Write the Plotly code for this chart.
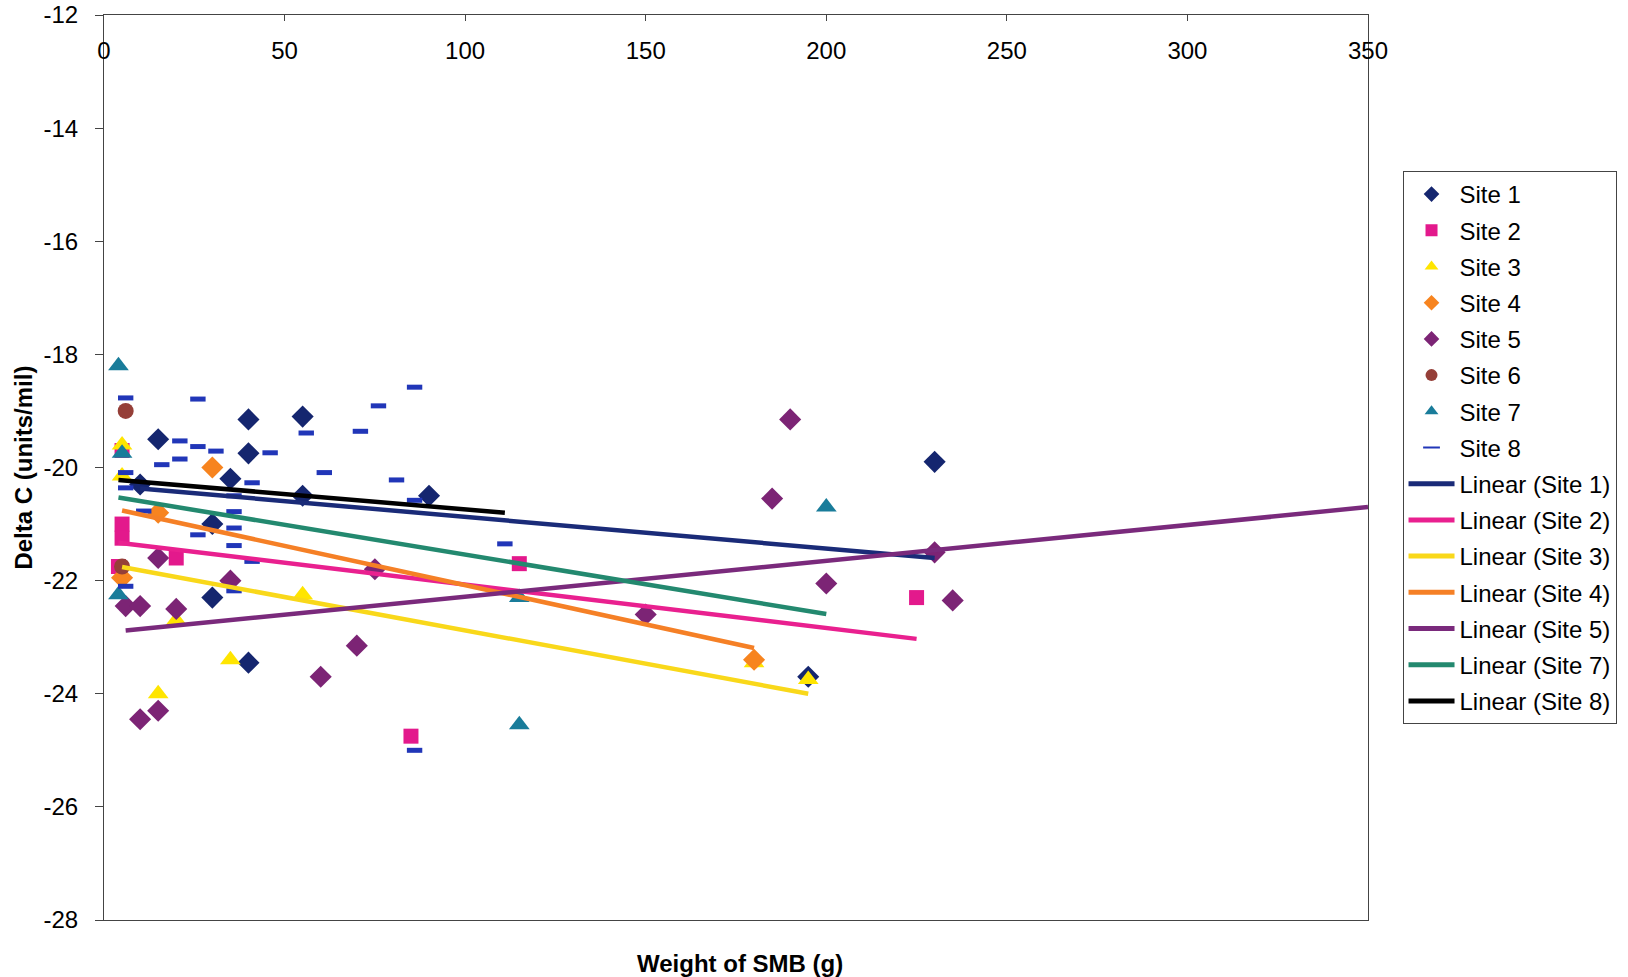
import plotly.graph_objects as go

# ---------------- data ----------------
site1_x = [10, 15, 30, 30, 35, 40, 40, 40, 55, 55, 90, 195, 230]
site1_y = [-20.3, -19.5, -21.0, -22.3, -20.2, -19.15, -19.75, -23.45, -19.1, -20.5, -20.5, -23.7, -19.9]

site2_x = [5, 5, 5, 20, 4, 85, 115, 225]
site2_y = [-19.7, -21.0, -21.25, -21.6, -21.75, -24.75, -21.7, -22.3]

site3_x = [5, 5, 20, 15, 35, 55, 180, 195]
site3_y = [-19.6, -20.15, -22.7, -24.0, -23.4, -22.25, -23.45, -23.75]

site4_x = [30, 15, 5, 180]
site4_y = [-20.0, -20.8, -21.95, -23.4]

site5_x = [15, 35, 6, 10, 20, 75, 70, 60, 15, 10, 190, 185, 200, 150, 230, 235]
site5_y = [-21.6, -22.0, -22.45, -22.45, -22.5, -21.8, -23.15, -23.7, -24.3, -24.45,
           -19.15, -20.55, -22.05, -22.6, -21.5, -22.35]

site6_x = [6, 5]
site6_y = [-19.0, -21.75]

site7_x = [4, 5, 4, 115, 115, 200]
site7_y = [-18.2, -19.75, -22.25, -22.3, -24.55, -20.7]

site8_x = [6, 26, 21, 26, 31, 46, 21, 16, 6, 6, 41, 36, 36, 11, 36, 26, 36, 41, 6, 36,
           86, 76, 56, 71, 61, 81, 86, 111, 86]
site8_y = [-18.77, -18.79, -19.53, -19.63, -19.71, -19.74, -19.85, -19.95, -20.09, -20.36,
           -20.27, -20.5, -20.78, -20.77, -21.07, -21.19, -21.38, -21.66, -22.1, -22.18,
           -18.58, -18.91, -19.39, -19.36, -20.09, -20.22, -20.58, -21.35, -25.0]

# linear trend lines (end points)
trend_names = ["Linear (Site 1)", "Linear (Site 2)", "Linear (Site 3)", "Linear (Site 4)",
               "Linear (Site 5)", "Linear (Site 7)", "Linear (Site 8)"]
trend_x0 = [10, 4, 5, 5, 6, 4, 4]
trend_x1 = [230, 225, 195, 180, 350, 200, 111]
trend_y0 = [-20.37, -21.33, -21.76, -20.76, -22.88, -20.53, -20.22]
trend_y1 = [-21.6, -23.03, -24.0, -23.19, -20.70, -22.59, -20.8]

x_ticks = [0, 50, 100, 150, 200, 250, 300, 350]
x_ticktext = ["0", "50", "100", "150", "200", "250", "300", "350"]
y_ticks = [-28, -26, -24, -22, -20, -18, -16, -14, -12]
y_ticktext = ["-28", "-26", "-24", "-22", "-20", "-18", "-16", "-14", "-12"]

# ---------------- styling ----------------
FONT = "Liberation Sans, Arial, sans-serif"

sites = [
    ("Site 1", site1_x, site1_y, "diamond", 17, "#15266F"),
    ("Site 2", site2_x, site2_y, "square", 15, "#E3198C"),
    ("Site 3", site3_x, site3_y, "triangle-up", 18, "#FFE500"),
    ("Site 4", site4_x, site4_y, "diamond", 17, "#F7841F"),
    ("Site 5", site5_x, site5_y, "diamond", 17, "#7C2475"),
    ("Site 6", site6_x, site6_y, "circle", 16, "#953F38"),
    ("Site 7", site7_x, site7_y, "triangle-up", 18, "#197C9A"),
]
trend_colors = ["#1A2B78", "#E9208F", "#F9D81A", "#F58026", "#7A2A7C", "#23896F", "#000000"]

fig = go.Figure()

for name, xs, ys, sym, size, col in sites:
    fig.add_trace(go.Scatter(
        x=xs, y=ys, mode="markers", name=name, legendgroup=name,
        marker=dict(symbol=sym, size=size, color=col, line=dict(width=0)),
    ))

fig.add_trace(go.Scatter(
    x=site8_x, y=site8_y, mode="markers", name="Site 8", legendgroup="Site 8",
    marker=dict(symbol="line-ew", size=11, color="#2136B8",
                line=dict(width=5, color="#2136B8")),
))

for i, nm in enumerate(trend_names):
    fig.add_trace(go.Scatter(
        x=[trend_x0[i], trend_x1[i]], y=[trend_y0[i], trend_y1[i]],
        mode="lines", name=nm, legendgroup=nm,
        line=dict(color=trend_colors[i], width=4.5),
    ))

fig.update_layout(
    width=1628, height=977,
    autosize=False,
    margin=dict(l=104, r=259, t=15, b=57),
    paper_bgcolor="white",
    plot_bgcolor="white",
    font=dict(family=FONT, size=24, color="black"),
    showlegend=True,
    legend=dict(
        x=1.0265, y=0.8276, xanchor="left", yanchor="top",
        bordercolor="#444444", borderwidth=1,
        font=dict(family=FONT, size=24, color="black"),
        traceorder="grouped", tracegroupgap=2,
        itemsizing="constant", itemwidth=46,
        bgcolor="white",
    ),
    xaxis=dict(
        range=[0, 350], side="top", automargin=False,
        tickvals=x_ticks, ticktext=x_ticktext,
        ticks="inside", ticklen=6, tickcolor="#444444",
        ticklabelposition="inside", ticklabeloverflow="allow",
        ticklabelstandoff=23,
        showline=True, linecolor="#444444", linewidth=1, mirror=True,
        showgrid=False, zeroline=False,
        tickfont=dict(family=FONT, size=24, color="black"),
    ),
    yaxis=dict(
        range=[-28, -12], automargin=False,
        tickvals=y_ticks, ticktext=y_ticktext,
        ticks="outside", ticklen=8, tickcolor="#444444",
        ticklabelstandoff=12, ticklabeloverflow="allow",
        showline=True, linecolor="#444444", linewidth=1, mirror=True,
        showgrid=False, zeroline=False,
        tickfont=dict(family=FONT, size=24, color="black"),
    ),
    annotations=[
        dict(text="<b>Weight of SMB (g)</b>", xref="paper", yref="paper",
             x=0.503, y=-0.0486, xanchor="center", yanchor="middle",
             showarrow=False, font=dict(family=FONT, size=24, color="black")),
        dict(text="<b>Delta C (units/mil)</b>", xref="paper", yref="paper",
             x=-0.064, y=0.5, xanchor="center", yanchor="middle", textangle=-90,
             showarrow=False, font=dict(family=FONT, size=24, color="black")),
    ],
)

fig.write_html("out.html", config={"displayModeBar": False},
               post_script="document.body.style.margin='0px';")
